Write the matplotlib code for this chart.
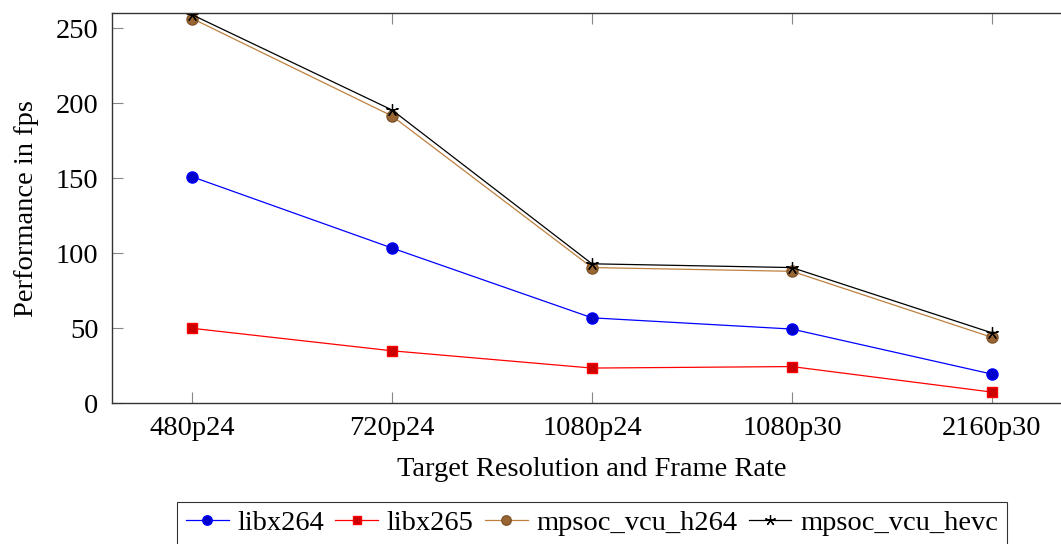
import matplotlib
matplotlib.use("Agg")
import matplotlib.pyplot as plt

plt.rcParams["font.family"] = ["Liberation Serif", "DejaVu Serif"]
plt.rcParams["mathtext.fontset"] = "stix"

# Datos
categorias = ["480p24", "720p24", "1080p24", "1080p30", "2160p30"]
libx264 = [151, 103.5, 57, 49.5, 19.5]
libx265 = [50, 35, 23.5, 24.5, 7.5]
mpsoc_vcu_h264 = [256.5, 191.5, 90.5, 88, 44]
mpsoc_vcu_hevc = [259, 195.5, 93, 90.5, 47]

x = list(range(len(categorias)))
fs = 20.5

fig = plt.figure(figsize=(10.61, 5.44), dpi=100)
ax = fig.add_axes([0.1058, 0.2586, 0.9043, 0.717])

ax.plot(x, libx264, color="blue", lw=0.9, marker="o", markersize=8,
        markerfacecolor=(0, 0, 0.8), markeredgecolor="blue", label="libx264")
ax.plot(x, libx265, color="red", lw=0.9, marker="s", markersize=7.5,
        markerfacecolor=(0.8, 0, 0), markeredgecolor="red", label="libx265")
ax.plot(x, mpsoc_vcu_h264, color=(0.75, 0.5, 0.25), lw=0.9, marker="o", markersize=8,
        markerfacecolor=(0.6, 0.4, 0.2), markeredgecolor=(0.5, 0.33, 0.17),
        label="mpsoc_vcu_h264")
ax.plot(x, mpsoc_vcu_hevc, color="black", lw=0.9, marker=(5, 2, 0), markersize=9,
        markeredgewidth=0.9, label="mpsoc_vcu_hevc")

ax.set_xlim(-0.4, 4.4)
ax.set_ylim(0, 260)
ax.set_xticks(x)
ax.set_xticklabels(categorias)
ax.set_yticks([0, 50, 100, 150, 200, 250])

for s in ax.spines.values():
    s.set_color("#333333")
    s.set_linewidth(1.0)

ax.tick_params(axis="both", direction="in", length=8, width=0.8, color="#888888",
               labelsize=fs, top=True, right=True)
ax.tick_params(axis="x", pad=9)
ax.tick_params(axis="y", pad=10)

ax.set_xlabel("Target Resolution and Frame Rate", fontsize=fs, labelpad=12)
ax.set_ylabel("Performance in fps", fontsize=fs, labelpad=12)

leg = ax.legend(loc="upper center", bbox_to_anchor=(0.5, -0.252), ncol=4,
                fontsize=fs, frameon=True, fancybox=False, borderpad=0.3,
                handlelength=1.5, handletextpad=0.3, columnspacing=0.4,
                borderaxespad=0, markerscale=0.85)
leg.get_frame().set_edgecolor("black")
leg.get_frame().set_linewidth(0.8)

fig.savefig("out.png", dpi=100)
